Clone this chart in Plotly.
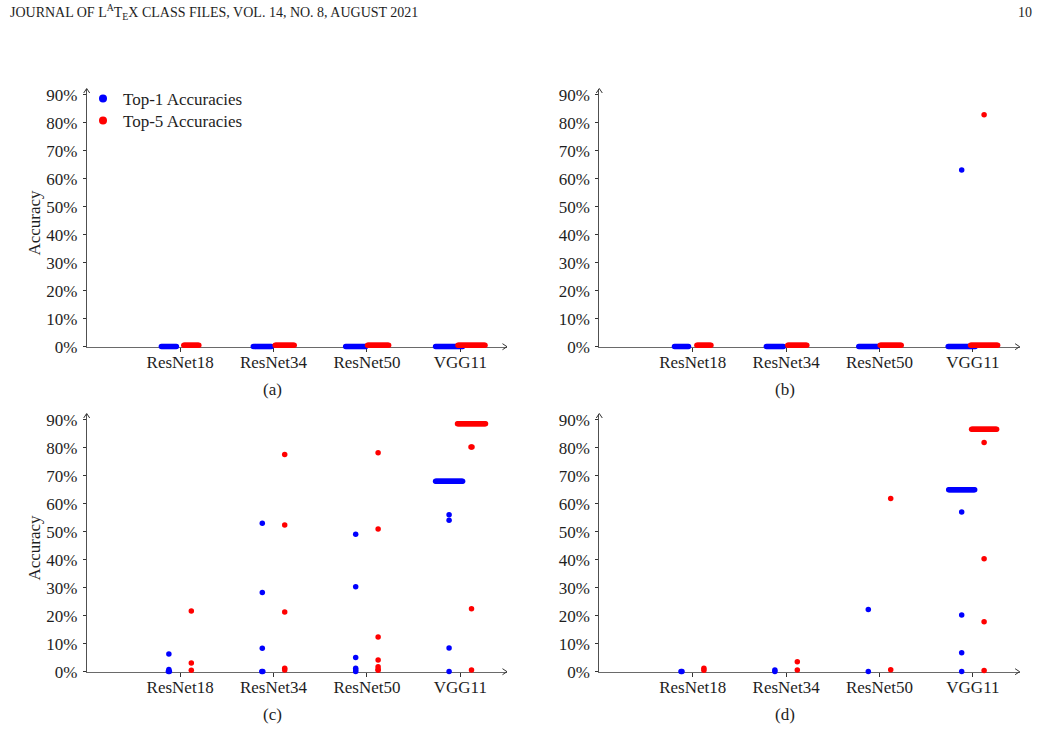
import plotly.graph_objects as go

# ---------------- data ----------------
models = ["ResNet18", "ResNet34", "ResNet50", "VGG11"]
y_tick_values = [0, 10, 20, 30, 40, 50, 60, 70, 80, 90]
y_tick_labels = ["0%", "10%", "20%", "30%", "40%", "50%", "60%", "70%", "80%", "90%"]
series_names = ["Top-1 Accuracies", "Top-5 Accuracies"]

# panel (a)  -- value in %, count = number of runs with that value
a_top1_model = ["ResNet18", "ResNet34", "ResNet50", "VGG11"]
a_top1_value = [0.1, 0.1, 0.1, 0.1]
a_top1_count = [16, 19, 21, 28]
a_top5_model = ["ResNet18", "ResNet34", "ResNet50", "VGG11"]
a_top5_value = [0.5, 0.5, 0.5, 0.5]
a_top5_count = [16, 20, 22, 28]

# panel (b)
b_top1_model = ["ResNet18", "ResNet34", "ResNet50", "VGG11", "VGG11"]
b_top1_value = [0.1, 0.1, 0.1, 0.1, 63.2]
b_top1_count = [15, 18, 20, 28, 1]
b_top5_model = ["ResNet18", "ResNet34", "ResNet50", "VGG11", "VGG11"]
b_top5_value = [0.5, 0.5, 0.5, 0.5, 82.9]
b_top5_count = [15, 20, 22, 28, 1]

# panel (c)
c_top1_model = ["ResNet18", "ResNet18", "ResNet18",
                "ResNet34", "ResNet34", "ResNet34", "ResNet34",
                "ResNet50", "ResNet50", "ResNet50", "ResNet50", "ResNet50", "ResNet50",
                "VGG11", "VGG11", "VGG11", "VGG11", "VGG11"]
c_top1_value = [6.3, 0.8, 0.1,
                53.1, 28.3, 8.4, 0.1,
                49.1, 30.4, 5.1, 1.2, 0.6, 0.1,
                68.1, 56.1, 54.1, 8.5, 0.1]
c_top1_count = [1, 1, 2,
                1, 1, 1, 2,
                1, 1, 1, 1, 1, 1,
                28, 1, 1, 1, 1]
c_top5_model = ["ResNet18", "ResNet18", "ResNet18",
                "ResNet34", "ResNet34", "ResNet34", "ResNet34", "ResNet34",
                "ResNet50", "ResNet50", "ResNet50", "ResNet50", "ResNet50", "ResNet50", "ResNet50",
                "VGG11", "VGG11", "VGG11", "VGG11"]
c_top5_value = [21.7, 3.1, 0.5,
                77.6, 52.4, 21.3, 1.2, 0.6,
                78.3, 51.0, 12.4, 4.2, 1.8, 0.9, 0.5,
                88.6, 80.3, 22.5, 0.6]
c_top5_count = [1, 1, 1,
                1, 1, 1, 1, 1,
                1, 1, 1, 1, 1, 1, 1,
                29, 2, 1, 1]

# panel (d)
d_top1_model = ["ResNet18", "ResNet34", "ResNet34", "ResNet50", "ResNet50",
                "VGG11", "VGG11", "VGG11", "VGG11", "VGG11"]
d_top1_value = [0.1, 0.6, 0.1, 22.2, 0.1,
                65.0, 57.1, 20.3, 6.8, 0.1]
d_top1_count = [2, 1, 1, 1, 1,
                27, 1, 1, 1, 1]
d_top5_model = ["ResNet18", "ResNet18", "ResNet34", "ResNet34", "ResNet50", "ResNet50",
                "VGG11", "VGG11", "VGG11", "VGG11", "VGG11"]
d_top5_value = [1.2, 0.5, 3.6, 0.6, 61.9, 0.7,
                86.7, 81.9, 40.4, 17.9, 0.4]
d_top5_count = [1, 1, 1, 1, 1, 1,
                26, 1, 1, 1, 1]

panels = [
    ("(a)", (a_top1_model, a_top1_value, a_top1_count), (a_top5_model, a_top5_value, a_top5_count)),
    ("(b)", (b_top1_model, b_top1_value, b_top1_count), (b_top5_model, b_top5_value, b_top5_count)),
    ("(c)", (c_top1_model, c_top1_value, c_top1_count), (c_top5_model, c_top5_value, c_top5_count)),
    ("(d)", (d_top1_model, d_top1_value, d_top1_count), (d_top5_model, d_top5_value, d_top5_count)),
]

# ---------------- style / layout ----------------
W, H = 1041, 731
FONT = "Liberation Serif"
FS = 17
TXT = "#1e1e1e"
BLUE, RED = "#0000ff", "#ff0000"
SERIES_OFFSET = 0.12      # horizontal shift of each series from the category tick
SWARM_STEP = 0.0107       # horizontal spread between identical values
X_RANGE = [-1.0, 3.5]
Y_RANGE = [0, 92.3]

# panel boxes in pixels: (left, right, top, bottom)
boxes = [
    (86.7, 507.0, 88.5, 346.7),
    (599.3, 1019.6, 88.5, 346.7),
    (86.7, 507.0, 413.5, 671.7),
    (599.3, 1019.6, 413.5, 671.7),
]


def px(xp):
    return xp / W


def py(yp):
    return 1 - yp / H


def swarm(model_list, values, counts, offset):
    xs, ys = [], []
    for m, v, n in zip(model_list, values, counts):
        c = models.index(m) + offset
        for k in range(n):
            xs.append(c + (k - (n - 1) / 2) * SWARM_STEP)
            ys.append(v)
    return xs, ys


fig = go.Figure()
shapes = []
annotations = []
layout_axes = {}

for i, (cap, top1, top5) in enumerate(panels):
    l, r, t, b = boxes[i]
    sfx = "" if i == 0 else str(i + 1)
    xref, yref = "x" + sfx, "y" + sfx
    for (ml, vals, cnts), col, off in ((top1, BLUE, -SERIES_OFFSET), (top5, RED, SERIES_OFFSET)):
        xs, ys = swarm(ml, vals, cnts, off)
        fig.add_trace(go.Scatter(
            x=xs, y=ys, mode="markers", xaxis=xref, yaxis=yref,
            marker=dict(color=col, size=5.5, line=dict(width=0)),
            showlegend=False, cliponaxis=False, hoverinfo="y",
        ))
    layout_axes["xaxis" + sfx] = dict(
        domain=[px(l), px(r)], anchor=yref, range=X_RANGE,
        showline=True, linecolor="#6a6a6a", linewidth=1,
        ticks="outside", ticklen=4, tickcolor="#333", tickwidth=1,
        tickvals=[0, 1, 2, 3], ticktext=models, ticklabelstandoff=-4,
        showgrid=False, zeroline=False, layer="below traces", fixedrange=True,
        automargin=False,
    )
    layout_axes["yaxis" + sfx] = dict(
        domain=[py(b), py(t)], anchor=xref, range=Y_RANGE,
        showline=True, linecolor="#505050", linewidth=1,
        ticks="outside", ticklen=3, tickcolor="#333", tickwidth=1,
        tickvals=y_tick_values, ticktext=y_tick_labels, ticklabelstandoff=2,
        showgrid=False, zeroline=False, layer="below traces", fixedrange=True,
        automargin=False,
    )
    # arrow heads
    shapes.append(dict(type="path", xref="paper", yref="paper",
                       path=f"M {px(r-4.5)},{py(b-3)} L {px(r)},{py(b)} L {px(r-4.5)},{py(b+3)}",
                       line=dict(color="#333", width=1)))
    shapes.append(dict(type="path", xref="paper", yref="paper",
                       path=f"M {px(l-3)},{py(t+4.5)} L {px(l)},{py(t)} L {px(l+3)},{py(t+4.5)}",
                       line=dict(color="#333", width=1)))
    # caption
    annotations.append(dict(text=cap, x=px((l + r) / 2 - 24), y=py(b + 43), xref="paper", yref="paper",
                            showarrow=False, xanchor="center", yanchor="middle",
                            font=dict(family=FONT, size=FS, color=TXT)))
    if i in (0, 2):
        annotations.append(dict(text="Accuracy", x=px(35), y=py((t + b) / 2 + 5), xref="paper", yref="paper",
                                showarrow=False, textangle=-90, xanchor="center", yanchor="middle",
                                font=dict(family=FONT, size=FS, color=TXT)))

# legend entries (one small legend per series, stacked in panel (a))
legend_rows_px = [99, 121]
for k, (name, col) in enumerate(zip(series_names, (BLUE, RED))):
    fig.add_trace(go.Scatter(x=[None], y=[None], mode="markers", name=name,
                             marker=dict(color=col, size=8), xaxis="x", yaxis="y",
                             legend="legend" if k == 0 else "legend2"))

legend_common = dict(xanchor="left", yanchor="middle", bgcolor="rgba(0,0,0,0)",
                     borderwidth=0, itemwidth=30,
                     font=dict(family=FONT, size=FS, color=TXT))

# header
annotations.append(dict(text="JOURNAL OF L<sup>A</sup>T<sub>E</sub>X CLASS FILES, VOL. 14, NO. 8, AUGUST 2021",
                        x=px(8), y=py(12), xref="paper", yref="paper", showarrow=False,
                        xanchor="left", yanchor="middle",
                        font=dict(family=FONT, size=14, color=TXT)))
annotations.append(dict(text="10", x=px(1034), y=py(12), xref="paper", yref="paper", showarrow=False,
                        xanchor="right", yanchor="middle",
                        font=dict(family=FONT, size=14, color=TXT)))

fig.update_layout(
    width=W, height=H, margin=dict(l=0, r=0, t=0, b=0, pad=0, autoexpand=False),
    paper_bgcolor="white", plot_bgcolor="white",
    font=dict(family=FONT, size=FS, color=TXT),
    showlegend=True,
    legend=dict(x=px(83), y=py(legend_rows_px[0]), **legend_common),
    legend2=dict(x=px(83), y=py(legend_rows_px[1]), **legend_common),
    shapes=shapes, annotations=annotations,
    **layout_axes,
)

fig.write_html("out.html")
